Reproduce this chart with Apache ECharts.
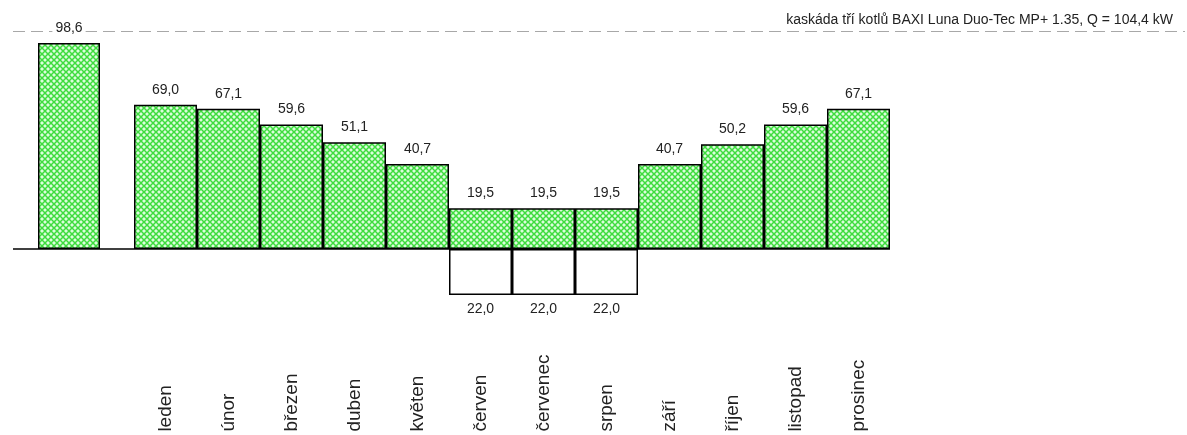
<!DOCTYPE html>
<html>
<head>
<meta charset="utf-8">
<script src="https://cdn.jsdelivr.net/npm/echarts@6/dist/echarts.min.js"></script>
<style>
  html, body { margin: 0; padding: 0; background: #fff; }
  #chart { width: 1187px; height: 435px; }
</style>
</head>
<body>
<div id="chart"></div>
<script>
// Monthly heat demand of the boiler cascade (kW)
const months = ['leden', 'únor', 'březen', 'duben', 'květen', 'červen',
                'červenec', 'srpen', 'září', 'říjen', 'listopad', 'prosinec'];
const monthDemand = [69.0, 67.1, 59.6, 51.1, 40.7, 19.5, 19.5, 19.5, 40.7, 50.2, 59.6, 67.1];
// Unused capacity below the axis in the summer months
const summerReserve = [null, null, null, null, null, 22.0, 22.0, 22.0, null, null, null, null];
// Design peak load
const peakDemand = [98.6];
const peakCategory = [''];
// Installed output of the cascade
const cascadeOutput = 104.4;
const cascadeName = 'kaskáda tří kotlů BAXI Luna Duo-Tec MP+ 1.35';

const fmt = v => Math.abs(v).toFixed(1).replace('.', ',');

// Cross-hatched green fill
function hatchPattern() {
  const s = 6;
  const c = document.createElement('canvas');
  c.width = s; c.height = s;
  const g = c.getContext('2d');
  g.fillStyle = '#dcfddc';
  g.fillRect(0, 0, s, s);
  g.strokeStyle = '#3edc3e';
  g.lineWidth = 1.5;
  g.beginPath();
  g.moveTo(-1, -1); g.lineTo(s + 1, s + 1);
  g.moveTo(s + 1, -1); g.lineTo(-1, s + 1);
  g.stroke();
  return { image: c, repeat: 'repeat' };
}
const hatch = hatchPattern();

// shared vertical scale
const Y_MIN = -40, Y_MAX = 110;
const TOP = 19.2, HEIGHT = 313.4;
const FONT = '"Liberation Sans", Arial, sans-serif';

function yAxis(gridIndex) {
  return { type: 'value', gridIndex, min: Y_MIN, max: Y_MAX, show: false };
}
function grid(left, width) {
  return { left, width, top: TOP, height: HEIGHT, outerBoundsMode: 'none', containLabel: false };
}

const labelStyle = { fontFamily: FONT, fontSize: 14, color: '#222' };

const option = {
  animation: false,
  backgroundColor: '#fff',
  grid: [
    grid(13, 1172),   // capacity line
    grid(13, 877),    // zero line
    grid(38, 62),     // peak bar
    grid(134, 756)    // months
  ],
  xAxis: [
    { type: 'value', gridIndex: 0, min: 0, max: 1, show: false },
    { type: 'value', gridIndex: 1, min: 0, max: 1, show: false },
    { type: 'category', gridIndex: 2, data: peakCategory, show: false },
    {
      type: 'category', gridIndex: 3, data: months,
      axisLine: { show: false, onZero: false },
      axisTick: { show: false },
      axisLabel: {
        rotate: 90, align: 'left', margin: 99, interval: 0,
        fontFamily: FONT, fontSize: 19, color: '#222'
      }
    }
  ],
  yAxis: [yAxis(0), yAxis(1), yAxis(2), yAxis(3)],
  series: [
    {
      type: 'line', xAxisIndex: 0, yAxisIndex: 0, data: [],
      markLine: {
        silent: true, symbol: 'none', animation: false,
        lineStyle: { color: '#a8a8a8', width: 1, type: [12, 6] },
        label: {
          position: 'insideEndTop', distance: 4,
          padding: [0, 8, 0, 0],
          formatter: () => cascadeName + ', Q = ' + fmt(cascadeOutput) + ' kW',
          fontFamily: FONT, fontSize: 14, color: '#222'
        },
        data: [{ yAxis: cascadeOutput }]
      }
    },
    {
      type: 'line', xAxisIndex: 1, yAxisIndex: 1, data: [],
      markLine: {
        silent: true, symbol: 'none', animation: false,
        lineStyle: { color: '#000', width: 1.5, type: 'solid' },
        label: { show: false },
        data: [{ yAxis: 0 }]
      }
    },
    {
      type: 'bar', xAxisIndex: 2, yAxisIndex: 2, data: peakDemand,
      barWidth: '100%', z: 5,
      itemStyle: { color: hatch, borderColor: '#000', borderWidth: 1.5 },
      label: {
        show: true, position: 'top', distance: 8,
        formatter: p => fmt(p.value),
        backgroundColor: '#fff', padding: [0, 3],
        ...labelStyle
      }
    },
    {
      type: 'bar', xAxisIndex: 3, yAxisIndex: 3, data: monthDemand,
      stack: 'load', barCategoryGap: 0, barWidth: '100%',
      itemStyle: { color: hatch, borderColor: '#000', borderWidth: 1.5 },
      label: {
        show: true, position: 'top', distance: 8,
        formatter: p => fmt(p.value),
        ...labelStyle
      }
    },
    {
      type: 'bar', xAxisIndex: 3, yAxisIndex: 3,
      data: summerReserve.map(v => (v == null ? null : -v)),
      stack: 'load', barCategoryGap: 0, barWidth: '100%',
      itemStyle: { color: '#fff', borderColor: '#000', borderWidth: 1.5 },
      label: {
        show: true, position: 'bottom', distance: 7,
        formatter: p => fmt(p.value),
        ...labelStyle
      }
    }
  ]
};

const chart = echarts.init(document.getElementById('chart'), null, { renderer: 'canvas' });
chart.setOption(option);
</script>
</body>
</html>
